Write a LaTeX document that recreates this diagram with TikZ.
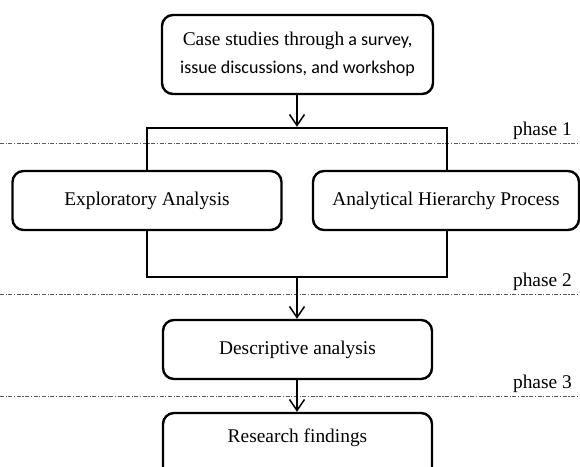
\documentclass[tikz,border=0pt]{standalone}
\usepackage{fontspec}
\setmainfont{Liberation Serif}
\newfontfamily\calib{Carlito}
\usetikzlibrary{arrows.meta}
\begin{document}
\begin{tikzpicture}[x=1pt,y=-1pt,
  stage/.style={draw,line width=2.4pt,rounded corners=11pt,fill=white,
    minimum height=59pt,inner sep=0pt,align=center,font=\fontsize{19.4}{28}\selectfont},
  frame/.style={draw,line width=2.4pt,inner sep=0pt},
  flow/.style={line width=1.7pt,-{Straight Barb[length=11pt,width=15pt,line width=1.5pt]}},
  phaseline/.style={gray!70!black,line width=0.9pt,dash pattern=on 4pt off 1.6pt on 1.2pt off 1.6pt},
  phaselabel/.style={anchor=base east,inner sep=0pt,font=\fontsize{19.4}{23}\selectfont}]
\useasboundingbox (0,0) rectangle (580,466);
\clip (0,0) rectangle (580,466);

% phase separators
\draw[phaseline] (0,143) coordinate (p1w) -- (580,143) coordinate (p1e);
\draw[phaseline] (0,294) coordinate (p2w) -- (580,294) coordinate (p2e);
\draw[phaseline] (0,396) coordinate (p3w) -- (580,396) coordinate (p3e);
\node[phaselabel] (ph1) at (572,135) {phase 1};
\node[phaselabel] (ph2) at (572,286) {phase 2};
\node[phaselabel] (ph3) at (572,388) {phase 3};

% frame joining the two parallel analyses
\node[frame,minimum width=300pt,minimum height=149pt] (group) at (297,202.5) {};

% stages
\node[stage,minimum width=271pt,minimum height=79pt] (case) at (297.5,54.5)
  {Case studies through{\calib\fontsize{18}{28}\selectfont\ a survey,}\\{\calib\fontsize{18}{28}\selectfont issue discussions, and workshop}};
\node[stage,minimum width=269pt] (explo) at (147,200.5) {Exploratory Analysis};
\node[stage,minimum width=266pt] (ahp) at (446,200.5) {Analytical Hierarchy Process};
\node[stage,minimum width=269pt] (desc) at (297.5,349.5) {Descriptive analysis};
\node[stage,minimum width=269pt,minimum height=70pt,text depth=0pt] (find) at (297.5,448)
  {\raisebox{0pt}[0pt][0pt]{\smash{\raisebox{5.5pt}{Research findings}}}};

% flow
\draw[flow] (case.south -| group.north) -- (group.north);
\draw[flow] (group.south) -- (group.south |- desc.north);
\draw[flow] (desc.south -| group.south) -- (group.south |- find.north);
\end{tikzpicture}
\end{document}
